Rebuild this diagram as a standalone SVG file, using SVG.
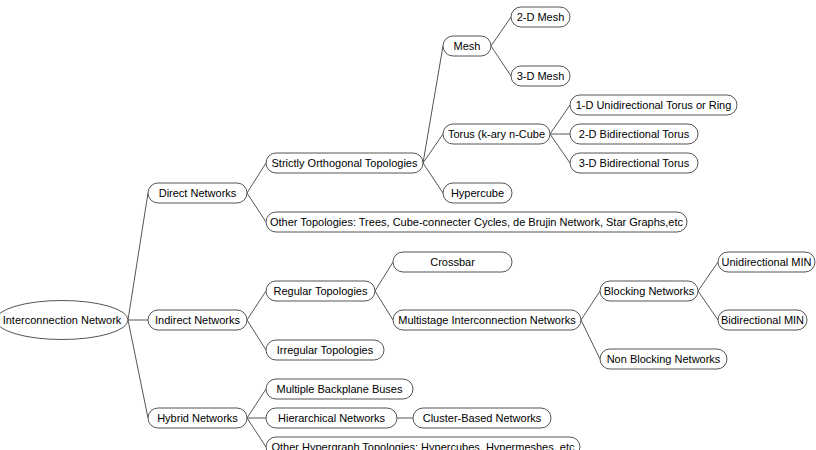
<svg xmlns="http://www.w3.org/2000/svg" width="816" height="450" viewBox="0 0 816 450">
<style>
.n{fill:#fff;stroke:#555;stroke-width:1}
.t{font-family:"Liberation Sans",Arial,sans-serif;font-size:11px;fill:#000;text-anchor:middle}
.c{stroke:#555;stroke-width:1;fill:none}
</style>
<rect width="816" height="450" fill="#fff"/>
<g id="connectors">
<path class="c" d="M128,320 L148,193 M128,320 L148,320 M128,320 L148,418"/>
<path class="c" d="M247,193 L266,163 M247,193 L266,222"/>
<path class="c" d="M423,163 L443,46 M423,163 L443,134 M423,163 L443,193"/>
<path class="c" d="M491,46 L511,17 M491,46 L511,76"/>
<path class="c" d="M550,134 L570,105 M550,134 L570,134 M550,134 L570,163"/>
<path class="c" d="M247,320 L266,291 M247,320 L266,350"/>
<path class="c" d="M375,291 L393,262 M375,291 L393,320"/>
<path class="c" d="M581,320 L600,291 M581,320 L600,359"/>
<path class="c" d="M698,291 L718,262 M698,291 L718,320"/>
<path class="c" d="M247,418 L266,389 M247,418 L266,418 M247,418 L266,447"/>
<path class="c" d="M397,418 L413,418"/>
</g>
<g id="root"><ellipse class="n" cx="62" cy="320" rx="66" ry="19.5"/><text class="t" x="62" y="324">Interconnection Network</text></g>
<g id="direct"><rect class="n" x="148" y="183" width="99" height="20" rx="10"/><text class="t" x="197.5" y="197">Direct Networks</text></g>
<g id="strictly"><rect class="n" x="266" y="153" width="157" height="20" rx="10"/><text class="t" x="344.5" y="167">Strictly Orthogonal Topologies</text></g>
<g id="othertop"><rect class="n" x="266" y="212" width="421" height="20" rx="10"/><text class="t" x="476.5" y="226">Other Topologies: Trees, Cube-connecter Cycles, de Brujin Network, Star Graphs,etc</text></g>
<g id="mesh"><rect class="n" x="443" y="36" width="48" height="20" rx="10"/><text class="t" x="467" y="50">Mesh</text></g>
<g id="mesh2d"><rect class="n" x="511" y="7" width="59" height="20" rx="10"/><text class="t" x="540.5" y="21">2-D Mesh</text></g>
<g id="mesh3d"><rect class="n" x="511" y="66" width="59" height="20" rx="10"/><text class="t" x="540.5" y="80">3-D Mesh</text></g>
<g id="torus"><rect class="n" x="443" y="124" width="107" height="20" rx="10"/><text class="t" x="496.5" y="138">Torus (k-ary n-Cube</text></g>
<g id="torus1d"><rect class="n" x="570" y="95" width="167" height="20" rx="10"/><text class="t" x="653.5" y="109">1-D Unidirectional Torus or Ring</text></g>
<g id="torus2d"><rect class="n" x="570" y="124" width="128" height="20" rx="10"/><text class="t" x="634" y="138">2-D Bidirectional Torus</text></g>
<g id="torus3d"><rect class="n" x="570" y="153" width="128" height="20" rx="10"/><text class="t" x="634" y="167">3-D Bidirectional Torus</text></g>
<g id="hypercube"><rect class="n" x="443" y="183" width="69" height="20" rx="10"/><text class="t" x="477.5" y="197">Hypercube</text></g>
<g id="indirect"><rect class="n" x="148" y="310" width="99" height="20" rx="10"/><text class="t" x="197.5" y="324">Indirect Networks</text></g>
<g id="regular"><rect class="n" x="266" y="281" width="109" height="20" rx="10"/><text class="t" x="320.5" y="295">Regular Topologies</text></g>
<g id="irregular"><rect class="n" x="266" y="340" width="118" height="20" rx="10"/><text class="t" x="325" y="354">Irregular Topologies</text></g>
<g id="crossbar"><rect class="n" x="393" y="252" width="119" height="20" rx="10"/><text class="t" x="452.5" y="266">Crossbar</text></g>
<g id="min"><rect class="n" x="393" y="310" width="188" height="20" rx="10"/><text class="t" x="487" y="324">Multistage Interconnection Networks</text></g>
<g id="blocking"><rect class="n" x="600" y="281" width="98" height="20" rx="10"/><text class="t" x="649" y="295">Blocking Networks</text></g>
<g id="unimin"><rect class="n" x="718" y="252" width="97" height="20" rx="10"/><text class="t" x="766.5" y="266">Unidirectional MIN</text></g>
<g id="bimin"><rect class="n" x="718" y="310" width="89" height="20" rx="10"/><text class="t" x="762.5" y="324">Bidirectional MIN</text></g>
<g id="nonblocking"><rect class="n" x="600" y="349" width="127" height="20" rx="10"/><text class="t" x="663.5" y="363">Non Blocking Networks</text></g>
<g id="hybrid"><rect class="n" x="148" y="408" width="99" height="20" rx="10"/><text class="t" x="197.5" y="422">Hybrid Networks</text></g>
<g id="backplane"><rect class="n" x="266" y="379" width="147" height="20" rx="10"/><text class="t" x="339.5" y="393">Multiple Backplane Buses</text></g>
<g id="hierarchical"><rect class="n" x="266" y="408" width="131" height="20" rx="10"/><text class="t" x="331.5" y="422">Hierarchical Networks</text></g>
<g id="cluster"><rect class="n" x="413" y="408" width="138" height="20" rx="10"/><text class="t" x="482" y="422">Cluster-Based Networks</text></g>
<g id="hypergraph"><rect class="n" x="266" y="437" width="314" height="20" rx="10"/><text class="t" x="423" y="451">Other Hypergraph Topologies: Hypercubes, Hypermeshes, etc</text></g>
</svg>
